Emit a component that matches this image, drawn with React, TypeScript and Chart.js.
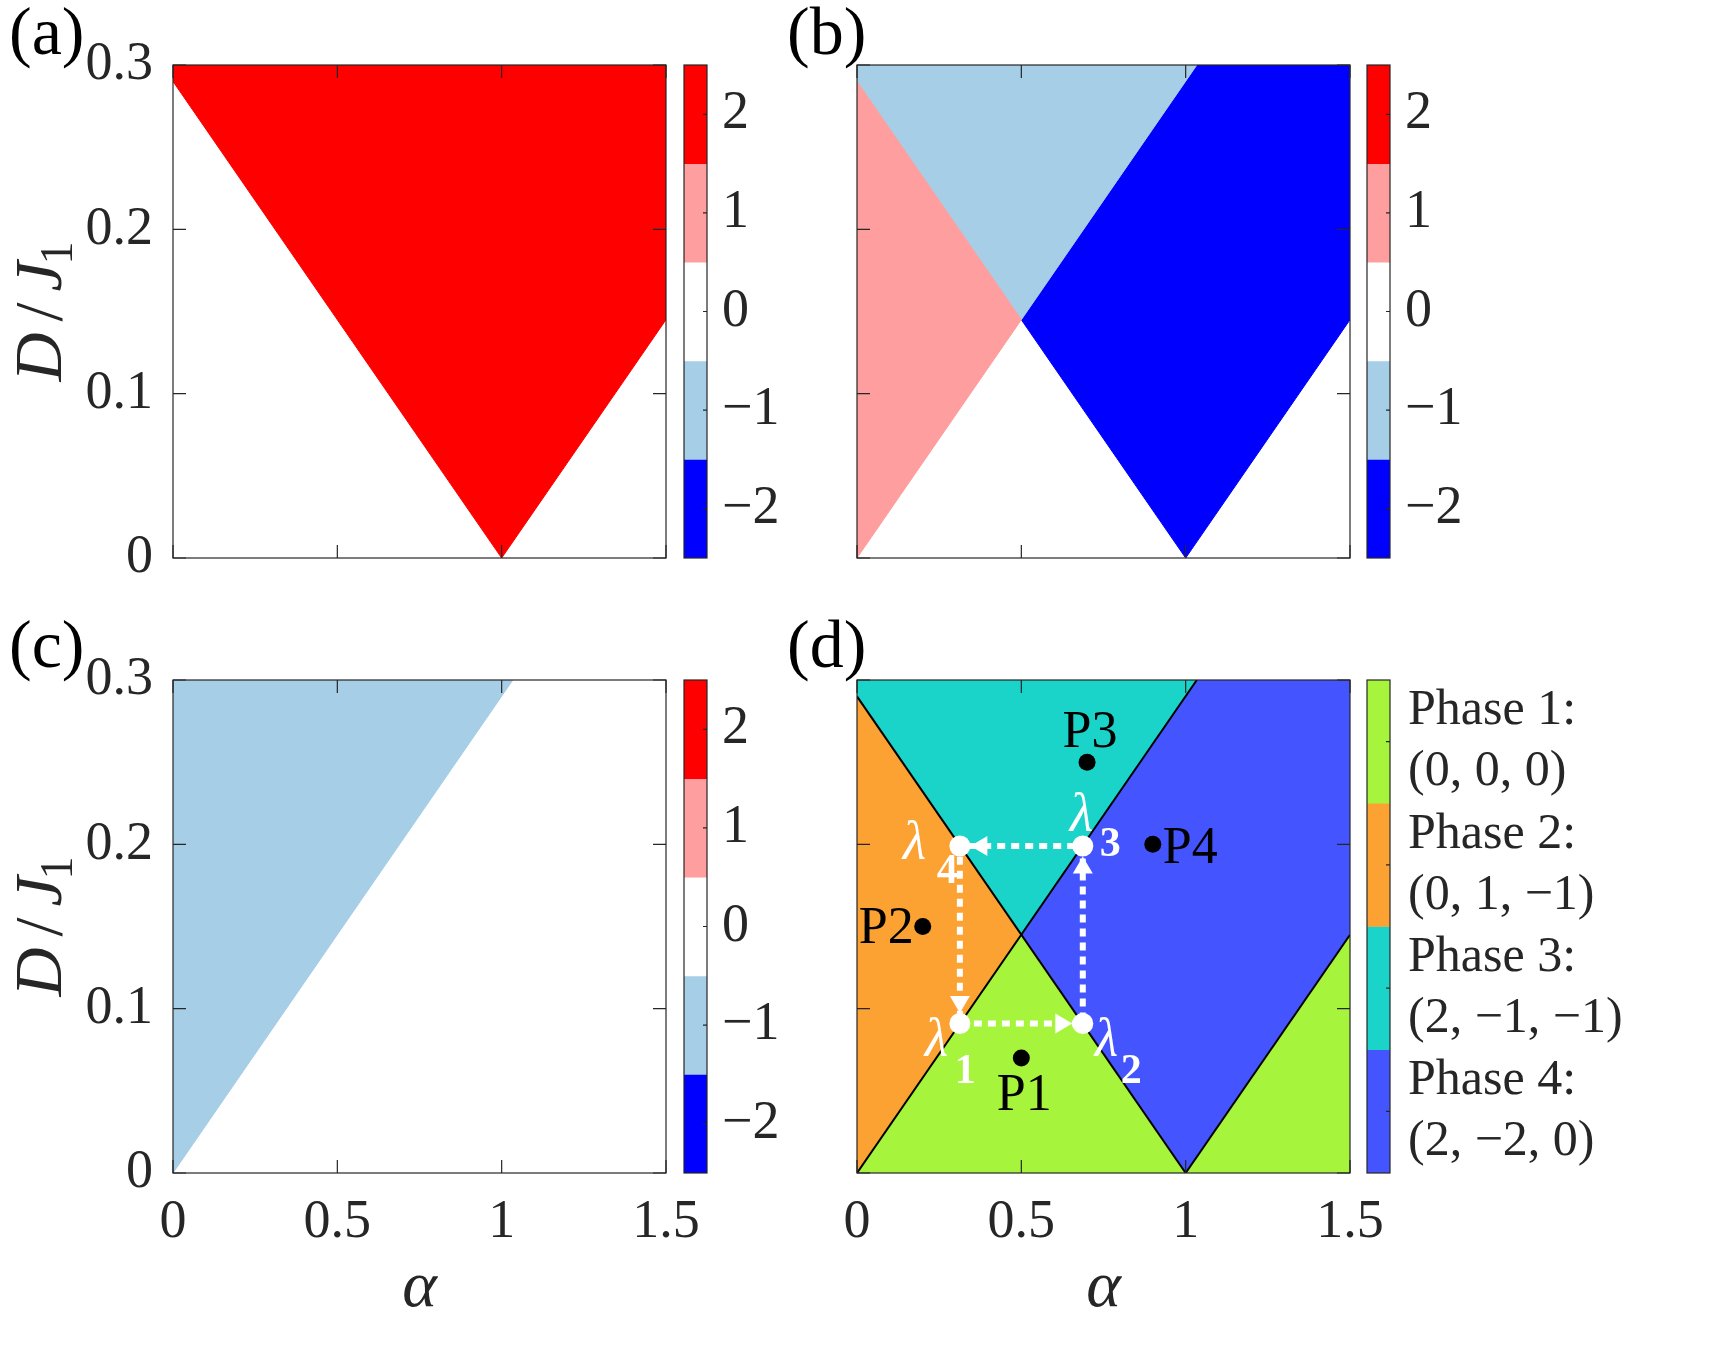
import React, { useEffect, useRef } from "react";
import { Chart, registerables } from "chart.js";

Chart.register(...registerables);

const FONT = '"Liberation Serif", "Times New Roman", Times, serif';
const INK = "#262626";

// ---------- axes ----------
const alphaTicks = [0, 0.5, 1, 1.5];
const alphaTickLabels = ["0", "0.5", "1", "1.5"];
const dTicks = [0, 0.1, 0.2, 0.3];
const dTickLabels = ["0", "0.1", "0.2", "0.3"];

// ---------- colour bar of (a)-(c) ----------
const chernValues = [2, 1, 0, -1, -2];
const chernLabels = ["2", "1", "0", "\u22121", "\u22122"];
const chernColors = ["#ff0000", "#ff9e9e", "#ffffff", "#a6cee6", "#0000ff"];

// ---------- colour bar of (d) ----------
const phaseNames = ["Phase 1:", "Phase 2:", "Phase 3:", "Phase 4:"];
const phaseTriples = ["(0, 0, 0)", "(0, 1, \u22121)", "(2, \u22121, \u22121)", "(2, \u22122, 0)"];
const phaseColors = ["#a6f53c", "#fca232", "#1ad3c9", "#4455ff"];

// ---------- phase boundaries [alpha, D/J1] ----------
const boundaryFalling = [[0, 0.29], [1, 0]];
const boundaryRising = [[0, 0], [1.034, 0.3]];
const boundaryRight = [[1, 0], [1.5, 0.145]];

// ---------- regions [alpha, D/J1] ----------
const regionTop = [[0, 0.29], [1, 0], [1.5, 0.145], [1.5, 0.3], [0, 0.3]];
const regionLeft = [[0, 0], [0.5, 0.145], [0, 0.29]];
const regionUpper = [[0, 0.29], [0.5, 0.145], [1.034, 0.3], [0, 0.3]];
const regionRight = [[0.5, 0.145], [1.034, 0.3], [1.5, 0.3], [1.5, 0.145], [1, 0]];
const regionAboveRising = [[0, 0], [1.034, 0.3], [0, 0.3]];
const regionBottom = [[0, 0], [0.5, 0.145], [1, 0]];
const regionBottomRight = [[1, 0], [1.5, 0.145], [1.5, 0]];

// ---------- marked points in (d) ----------
const pointNames = ["P1", "P2", "P3", "P4"];
const pointAlpha = [0.5, 0.2, 0.7, 0.9];
const pointD = [0.07, 0.15, 0.25, 0.2];

const lambdaIndex = ["1", "2", "3", "4"];
const lambdaAlpha = [0.313, 0.687, 0.687, 0.313];
const lambdaD = [0.091, 0.091, 0.199, 0.199];

// ---------- styling for annotations (pixel offsets) ----------
const pointLabelStyle: { align: CanvasTextAlign; dx: number; dy: number }[] = [
  { align: "center", dx: 3, dy: 52 },
  { align: "right", dx: -9, dy: 16 },
  { align: "center", dx: 3, dy: -15 },
  { align: "left", dx: 10, dy: 19 },
];
const lambdaLabelStyle = [
  [-35, 33, -5, 60],
  [12, 33, 38, 60],
  [-13, -15, 17, 10],
  [-57, 13, -23, 37],
];

const toXY = (pts: number[][]) => pts.map(([x, y]) => ({ x, y }));

function lookup(values: number[], labels: any[], v: number) {
  const i = values.findIndex((t) => Math.abs(t - v) < 1e-9);
  return i >= 0 ? labels[i] : "";
}

function region(pts: number[][], color: string) {
  return {
    data: toXY([...pts, pts[0]]),
    showLine: true,
    fill: "shape",
    backgroundColor: color,
    borderColor: color,
    borderWidth: 1,
    pointRadius: 0,
    pointHoverRadius: 0,
    tension: 0,
  };
}

function boundary(pts: number[][]) {
  return {
    data: toXY(pts),
    showLine: true,
    fill: false,
    borderColor: "#000000",
    borderWidth: 2,
    pointRadius: 0,
    pointHoverRadius: 0,
    tension: 0,
  };
}

type Box = { left: number; top: number; width: number; height: number };
type Area = { left: number; top: number; right: number; bottom: number };

type Panel = {
  canvas: Box;
  area: Area;
  showX: boolean;
  showY: boolean;
  label: string;
  labelPos: [number, number];
  datasets: any[];
  overlay?: (chart: any) => void;
};

function drawYTitle(ctx: CanvasRenderingContext2D, x: number, y: number) {
  ctx.save();
  ctx.translate(x, y);
  ctx.rotate(-Math.PI / 2);
  ctx.fillStyle = INK;
  ctx.textAlign = "left";
  ctx.textBaseline = "alphabetic";
  const s = 68;
  const start = -70;
  ctx.font = `italic ${s}px ${FONT}`;
  ctx.fillText("D", start, 0);
  ctx.font = `${s}px ${FONT}`;
  ctx.fillText("/", start + 60, 0);
  ctx.font = `italic ${s}px ${FONT}`;
  ctx.fillText("J", start + 90, 0);
  ctx.font = `${Math.round(s * 0.68)}px ${FONT}`;
  ctx.fillText("1", start + 117, 11);
  ctx.restore();
}

function drawDOverlay(chart: any) {
  const { ctx, scales } = chart;
  const xs = scales.x;
  const ys = scales.y;
  const px = (a: number) => xs.getPixelForValue(a);
  const py = (d: number) => ys.getPixelForValue(d);
  ctx.save();
  // arrow heads
  ctx.fillStyle = "#ffffff";
  const r = 10.5;
  const len = 17;
  const half = 10;
  for (let i = 0; i < lambdaAlpha.length; i++) {
    const j = (i + 1) % lambdaAlpha.length;
    const x0 = px(lambdaAlpha[i]);
    const y0 = py(lambdaD[i]);
    const x1 = px(lambdaAlpha[j]);
    const y1 = py(lambdaD[j]);
    const L = Math.hypot(x1 - x0, y1 - y0);
    const ux = (x1 - x0) / L;
    const uy = (y1 - y0) / L;
    const tx = x1 - ux * r;
    const ty = y1 - uy * r;
    const bx = tx - ux * len;
    const by = ty - uy * len;
    ctx.beginPath();
    ctx.moveTo(tx, ty);
    ctx.lineTo(bx - uy * half, by + ux * half);
    ctx.lineTo(bx + uy * half, by - ux * half);
    ctx.closePath();
    ctx.fill();
  }
  // lambda circles
  for (let i = 0; i < lambdaAlpha.length; i++) {
    ctx.beginPath();
    ctx.arc(px(lambdaAlpha[i]), py(lambdaD[i]), 10.5, 0, Math.PI * 2);
    ctx.fill();
  }
  // lambda labels
  ctx.textBaseline = "alphabetic";
  ctx.textAlign = "left";
  for (let i = 0; i < lambdaIndex.length; i++) {
    const x = px(lambdaAlpha[i]);
    const y = py(lambdaD[i]);
    const [lx, ly, sx, sy] = lambdaLabelStyle[i];
    ctx.font = `italic 54px ${FONT}`;
    ctx.fillText("\u03bb", x + lx, y + ly);
    ctx.font = `bold 42px ${FONT}`;
    ctx.fillText(lambdaIndex[i], x + sx, y + sy);
  }
  // P labels
  ctx.fillStyle = "#000000";
  ctx.font = `52px ${FONT}`;
  for (let i = 0; i < pointNames.length; i++) {
    const st = pointLabelStyle[i];
    ctx.textAlign = st.align;
    ctx.fillText(pointNames[i], px(pointAlpha[i]) + st.dx, py(pointD[i]) + st.dy);
  }
  ctx.restore();
}

function mainConfig(p: Panel): any {
  const yWidth = p.showY ? p.area.left - p.canvas.left : 0;
  const xHeight = p.showX ? 100 : 0;
  const padLeft = p.area.left - p.canvas.left - yWidth;
  const padTop = p.area.top - p.canvas.top;
  const padRight = p.canvas.left + p.canvas.width - p.area.right;
  const padBottom = p.canvas.top + p.canvas.height - p.area.bottom - xHeight;
  const tickFont = { family: FONT, size: 54 };
  const decor = {
    id: "decor",
    afterDraw(chart: any) {
      const { ctx, chartArea: a, scales } = chart;
      ctx.save();
      ctx.strokeStyle = INK;
      ctx.lineWidth = 1.2;
      ctx.strokeRect(a.left, a.top, a.right - a.left, a.bottom - a.top);
      const tl = 13;
      ctx.beginPath();
      for (const v of alphaTicks) {
        const x = scales.x.getPixelForValue(v);
        ctx.moveTo(x, a.bottom);
        ctx.lineTo(x, a.bottom - tl);
        ctx.moveTo(x, a.top);
        ctx.lineTo(x, a.top + tl);
      }
      for (const v of dTicks) {
        const y = scales.y.getPixelForValue(v);
        ctx.moveTo(a.left, y);
        ctx.lineTo(a.left + tl, y);
        ctx.moveTo(a.right, y);
        ctx.lineTo(a.right - tl, y);
      }
      ctx.stroke();
      if (p.overlay) p.overlay(chart);
      // panel label
      ctx.font = `68px ${FONT}`;
      ctx.textAlign = "left";
      ctx.textBaseline = "alphabetic";
      ctx.fillStyle = "#000000";
      ctx.fillText(p.label, p.labelPos[0] - p.canvas.left, p.labelPos[1] - p.canvas.top);
      if (p.showY) drawYTitle(ctx, 61 - p.canvas.left, (a.top + a.bottom) / 2);
      if (p.showX) {
        ctx.fillStyle = INK;
        ctx.font = `italic 66px ${FONT}`;
        ctx.textAlign = "center";
        ctx.fillText("\u03b1", (a.left + a.right) / 2, 1306 - p.canvas.top);
      }
      ctx.restore();
    },
  };
  return {
    type: "scatter",
    data: { datasets: p.datasets },
    options: {
      animation: false,
      responsive: false,
      events: [],
      layout: { padding: { left: padLeft, top: padTop, right: padRight, bottom: padBottom } },
      plugins: { legend: { display: false }, tooltip: { enabled: false } },
      scales: {
        x: {
          type: "linear",
          min: 0,
          max: 1.5,
          grid: { display: false, drawTicks: false },
          border: { display: false },
          afterBuildTicks: (s: any) => {
            s.ticks = alphaTicks.map((v) => ({ value: v }));
          },
          ticks: {
            display: p.showX,
            padding: 17,
            maxRotation: 0,
            autoSkip: false,
            font: tickFont,
            color: INK,
            callback: (v: number) => lookup(alphaTicks, alphaTickLabels, v),
          },
          afterFit: (s: any) => {
            s.height = xHeight;
            s.paddingLeft = 0;
            s.paddingRight = 0;
            s.paddingTop = 0;
            s.paddingBottom = 0;
          },
        },
        y: {
          type: "linear",
          min: 0,
          max: 0.3,
          grid: { display: false, drawTicks: false },
          border: { display: false },
          afterBuildTicks: (s: any) => {
            s.ticks = dTicks.map((v) => ({ value: v }));
          },
          ticks: {
            display: p.showY,
            padding: 20,
            autoSkip: false,
            font: tickFont,
            color: INK,
            callback: (v: number) => lookup(dTicks, dTickLabels, v),
          },
          afterFit: (s: any) => {
            s.width = yWidth;
            s.paddingLeft = 0;
            s.paddingRight = 0;
            s.paddingTop = 0;
            s.paddingBottom = 0;
          },
        },
      },
    },
    plugins: [decor],
  };
}

type Colorbar = {
  canvas: Box;
  area: Area;
  min: number;
  max: number;
  segments: { lo: number; hi: number; color: string }[];
  tickValues: number[];
  tickLabels: any[];
  fontSize: number;
  padding: number;
};

function colorbarConfig(cb: Colorbar): any {
  const padLeft = cb.area.left - cb.canvas.left;
  const yWidth = cb.canvas.left + cb.canvas.width - cb.area.right;
  const padTop = cb.area.top - cb.canvas.top;
  const padBottom = cb.canvas.top + cb.canvas.height - cb.area.bottom;
  const frame = {
    id: "cbframe",
    afterDraw(chart: any) {
      const { ctx, chartArea: a, scales } = chart;
      ctx.save();
      ctx.strokeStyle = INK;
      ctx.lineWidth = 1.2;
      ctx.strokeRect(a.left, a.top, a.right - a.left, a.bottom - a.top);
      ctx.beginPath();
      for (const v of cb.tickValues) {
        const y = scales.y.getPixelForValue(v);
        ctx.moveTo(a.right, y);
        ctx.lineTo(a.right - 4, y);
      }
      ctx.stroke();
      ctx.restore();
    },
  };
  return {
    type: "bar",
    data: {
      labels: [""],
      datasets: cb.segments.map((s) => ({
        data: [[s.lo, s.hi]],
        backgroundColor: s.color,
        borderWidth: 0,
        grouped: false,
        barPercentage: 1,
        categoryPercentage: 1,
      })),
    },
    options: {
      animation: false,
      responsive: false,
      events: [],
      layout: { padding: { left: padLeft, top: padTop, right: 0, bottom: padBottom } },
      plugins: { legend: { display: false }, tooltip: { enabled: false } },
      scales: {
        x: { display: false },
        y: {
          type: "linear",
          position: "right",
          min: cb.min,
          max: cb.max,
          grid: { display: false, drawTicks: false },
          border: { display: false },
          afterBuildTicks: (s: any) => {
            s.ticks = cb.tickValues.map((v) => ({ value: v }));
          },
          ticks: {
            padding: cb.padding,
            autoSkip: false,
            font: { family: FONT, size: cb.fontSize, lineHeight: 1.22 },
            color: INK,
            callback: (v: number) => lookup(cb.tickValues, cb.tickLabels, v),
          },
          afterFit: (s: any) => {
            s.width = yWidth;
            s.paddingTop = 0;
            s.paddingBottom = 0;
          },
        },
      },
    },
    plugins: [frame],
  };
}

function ChartCanvas({ box, make }: { box: Box; make: () => any }) {
  const ref = useRef<HTMLCanvasElement>(null);
  useEffect(() => {
    const chart = new Chart(ref.current as HTMLCanvasElement, make());
    return () => chart.destroy();
  }, []);
  return (
    <canvas
      ref={ref}
      width={box.width}
      height={box.height}
      style={{ position: "absolute", left: box.left, top: box.top, width: box.width, height: box.height }}
    />
  );
}

const TOP_AREA = { top: 65, bottom: 558 };
const BOT_AREA = { top: 680, bottom: 1173 };
const LEFT_AREA = { left: 173, right: 666 };
const RIGHT_AREA = { left: 857, right: 1350 };

const panels: Panel[] = [
  {
    canvas: { left: 0, top: 0, width: 710, height: 600 },
    area: { ...LEFT_AREA, ...TOP_AREA },
    showX: false,
    showY: true,
    label: "(a)",
    labelPos: [9, 54],
    datasets: [region(regionTop, chernColors[0])],
  },
  {
    canvas: { left: 700, top: 0, width: 700, height: 600 },
    area: { ...RIGHT_AREA, ...TOP_AREA },
    showX: false,
    showY: false,
    label: "(b)",
    labelPos: [787, 54],
    datasets: [
      region(regionLeft, chernColors[1]),
      region(regionUpper, chernColors[3]),
      region(regionRight, chernColors[4]),
    ],
  },
  {
    canvas: { left: 0, top: 600, width: 710, height: 750 },
    area: { ...LEFT_AREA, ...BOT_AREA },
    showX: true,
    showY: true,
    label: "(c)",
    labelPos: [9, 667],
    datasets: [region(regionAboveRising, chernColors[3])],
  },
  {
    canvas: { left: 700, top: 600, width: 700, height: 750 },
    area: { ...RIGHT_AREA, ...BOT_AREA },
    showX: true,
    showY: false,
    label: "(d)",
    labelPos: [787, 667],
    overlay: drawDOverlay,
    datasets: [
      {
        data: toXY([...lambdaAlpha, lambdaAlpha[0]].map((a, i) => [a, [...lambdaD, lambdaD[0]][i]])),
        showLine: true,
        fill: false,
        borderColor: "#ffffff",
        borderWidth: 6,
        borderDash: [8, 6],
        borderCapStyle: "butt",
        pointRadius: 0,
        pointHoverRadius: 0,
        tension: 0,
      },
      {
        data: toXY(pointAlpha.map((a, i) => [a, pointD[i]])),
        showLine: false,
        pointRadius: 8.5,
        pointBackgroundColor: "#000000",
        pointBorderColor: "#000000",
        pointBorderWidth: 0,
      },
      boundary(boundaryFalling),
      boundary(boundaryRising),
      boundary(boundaryRight),
      region(regionBottom, phaseColors[0]),
      region(regionBottomRight, phaseColors[0]),
      region(regionLeft, phaseColors[1]),
      region(regionUpper, phaseColors[2]),
      region(regionRight, phaseColors[3]),
    ],
  },
];

const chernSegments = chernValues.map((v, i) => ({ lo: v - 0.5, hi: v + 0.5, color: chernColors[i] }));
const phaseTickValues = phaseNames.map((_, i) => phaseNames.length - 0.5 - i);
const phaseSegments = phaseNames.map((_, i) => ({
  lo: phaseNames.length - 1 - i,
  hi: phaseNames.length - i,
  color: phaseColors[i],
}));

const chernBar = (canvas: Box, area: Area): Colorbar => ({
  canvas,
  area,
  min: -2.5,
  max: 2.5,
  segments: chernSegments,
  tickValues: chernValues,
  tickLabels: chernLabels,
  fontSize: 54,
  padding: 15,
});

const colorbars: Colorbar[] = [
  chernBar({ left: 660, top: 0, width: 200, height: 600 }, { left: 684, right: 707, ...TOP_AREA }),
  chernBar({ left: 1343, top: 0, width: 200, height: 600 }, { left: 1367, right: 1390, ...TOP_AREA }),
  chernBar({ left: 660, top: 600, width: 200, height: 750 }, { left: 684, right: 707, ...BOT_AREA }),
  {
    canvas: { left: 1343, top: 600, width: 382, height: 750 },
    area: { left: 1367, right: 1390, ...BOT_AREA },
    min: 0,
    max: phaseNames.length,
    segments: phaseSegments,
    tickValues: phaseTickValues,
    tickLabels: phaseNames.map((n, i) => [n, phaseTriples[i]]),
    fontSize: 50,
    padding: 18,
  },
];

export default function App() {
  return (
    <div
      style={{
        position: "absolute",
        left: 0,
        top: 0,
        width: 1725,
        height: 1350,
        background: "#ffffff",
        overflow: "hidden",
      }}
    >
      {panels.map((p, i) => (
        <ChartCanvas key={"p" + i} box={p.canvas} make={() => mainConfig(p)} />
      ))}
      {colorbars.map((c, i) => (
        <ChartCanvas key={"c" + i} box={c.canvas} make={() => colorbarConfig(c)} />
      ))}
    </div>
  );
}
